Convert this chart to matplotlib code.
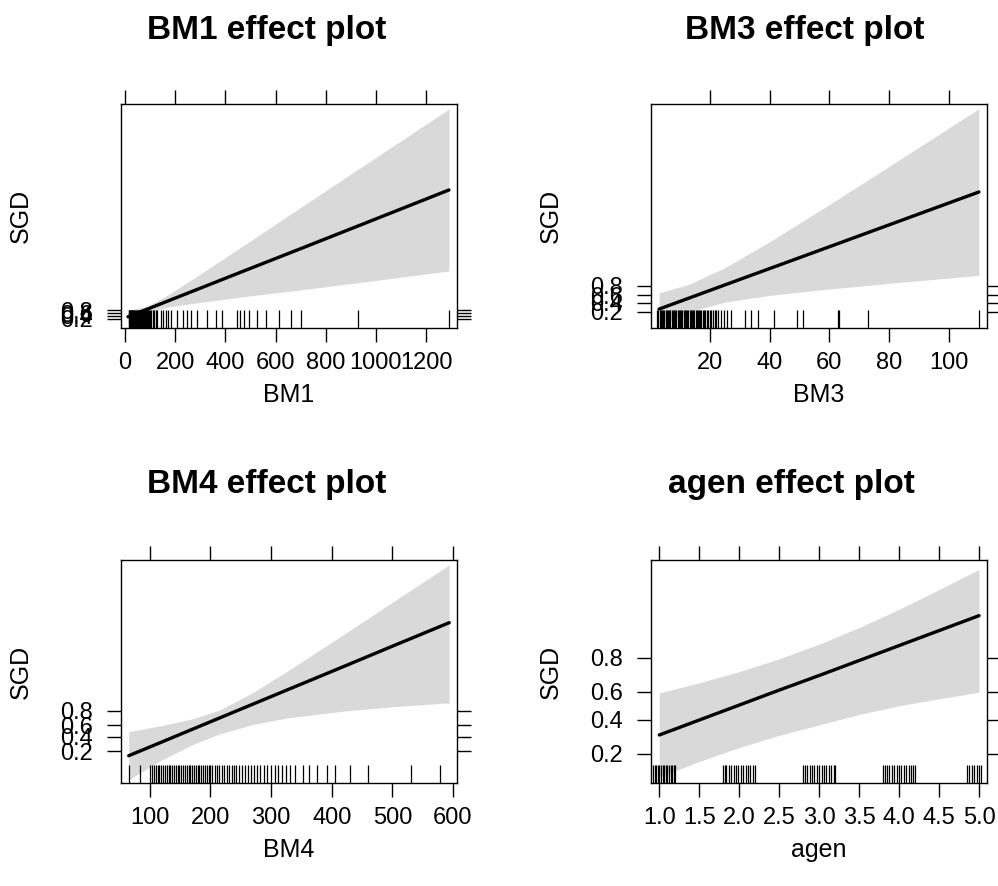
import numpy as np
import matplotlib
matplotlib.use("Agg")
import matplotlib.pyplot as plt
import matplotlib.transforms as mtransforms

plt.rcParams['font.family'] = ['Liberation Sans', 'DejaVu Sans']

# y axis is on the logit (link) scale, labelled with probabilities
prob_ticks = [0.2, 0.4, 0.6, 0.8]
prob_labels = ["0.2", "0.4", "0.6", "0.8"]

# BM1 panel (fit and band in logit units)
bm1_x = [12, 88, 179, 299, 498, 685, 976, 1291]
bm1_fit = [-0.8, 1.65, 4.6, 8.47, 14.9, 20.9, 30.3, 40.5]
bm1_upper = [1.3, 2.65, 6.7, 13.07, 23.8, 34.0, 49.8, 66.9]
bm1_lower = [-2.9, 0.65, 2.5, 3.87, 6.0, 7.8, 10.8, 14.1]
bm1_rug = [15, 17, 19, 21, 23, 25, 27, 29, 31, 33, 35, 37, 40, 43, 46, 49,
           52, 55, 58, 61, 64, 67, 70, 74, 78, 82, 86, 90, 95, 100, 105, 111,
           117, 123, 128, 142, 153, 162, 173, 183, 208, 231, 246, 262, 286,
           328, 363, 386, 445, 458, 474, 494, 525, 561, 614, 660, 700, 927,
           1291]

# BM3 panel
bm3_x = [3, 13, 25, 40, 58.3, 80, 110.1]
bm3_fit = [-1.08, 0.08, 1.47, 3.20, 5.31, 7.82, 11.3]
bm3_upper = [0.63, 1.54, 3.29, 6.03, 9.63, 14.0, 20.1]
bm3_lower = [-2.79, -1.38, -0.35, 0.37, 0.99, 1.64, 2.48]
bm3_rug = [2.4, 2.8, 3.2, 3.6, 4.0, 4.4, 4.8, 5.2, 5.6, 6.0, 6.4, 6.8, 7.2,
           7.6, 8.0, 8.4, 8.8, 9.2, 9.6, 10.0, 10.4, 10.8, 11.2, 11.6, 12.0,
           12.4, 12.8, 13.2, 13.6, 14.0, 14.4, 14.8, 15.2, 15.6, 16.0, 16.4,
           16.8, 17.2, 17.6, 18.0, 18.5, 19.0, 19.5, 20.0, 20.5, 21.0, 21.6,
           22.2, 22.8, 23.7, 24.8, 25.7, 27.0, 31.8, 33.8, 36.0, 41.6, 49.1,
           51.3, 62.8, 63.4, 72.9, 110.1]

# BM4 panel
bm4_x = [65.3, 120, 170, 215, 270, 325.8, 420, 500, 593.8]
bm4_fit = [-1.71, -0.76, 0.115, 0.90, 1.86, 2.83, 4.47, 5.87, 7.50]
bm4_upper = [-0.05, 0.38, 0.835, 1.45, 2.66, 4.12, 6.69, 8.91, 11.51]
bm4_lower = [-3.37, -2.0, -0.95, -0.2, 0.45, 0.9, 1.38, 1.68, 1.95]
bm4_rug = [65, 84, 101, 104, 107, 110, 113, 116, 119, 122, 125, 128, 131,
           134, 137, 140, 143, 146, 149, 152, 155, 158, 161, 164, 167, 170,
           173, 176, 179, 182, 185, 188, 191, 194, 197, 200, 203, 207, 211,
           215, 219, 223, 227, 231, 235, 239, 243, 247, 252, 257, 262, 267,
           272, 277, 282, 288, 294, 300, 306, 312, 318, 325, 332, 340, 352,
           362, 375, 392, 405, 430, 460, 531, 579]

# agen panel
agen_x = [1.0, 1.5, 2.0, 2.5, 3.0, 3.5, 4.0, 4.5, 5.0]
agen_fit = [-0.84, -0.41, 0.02, 0.45, 0.87, 1.30, 1.73, 2.16, 2.59]
agen_upper = [0.37, 0.66, 0.98, 1.35, 1.77, 2.25, 2.77, 3.34, 3.92]
agen_lower = [-2.05, -1.6, -1.2, -0.85, -0.55, -0.25, 0.0, 0.2, 0.39]
agen_rug = [0.92, 0.94, 0.96, 0.98, 1.0, 1.02, 1.04, 1.06, 1.08, 1.1, 1.12,
            1.14, 1.16, 1.18, 1.2,
            1.8, 1.82, 1.84, 1.87, 1.9, 1.93, 1.96, 1.99, 2.02, 2.05, 2.08,
            2.11, 2.14, 2.17, 2.2,
            2.8, 2.82, 2.85, 2.88, 2.91, 2.94, 2.97, 3.0, 3.03, 3.06, 3.09,
            3.12, 3.15, 3.18, 3.2,
            3.8, 3.82, 3.85, 3.88, 3.91, 3.94, 3.97, 4.0, 4.03, 4.06, 4.09,
            4.12, 4.15, 4.18, 4.2,
            4.85, 4.88, 4.91, 4.94, 4.97, 5.0, 5.02]

BAND = "#d9d9d9"
logit_ticks = [np.log(p / (1 - p)) for p in prob_ticks]


def draw_panel(ax, x, fit, lower, upper, rug, xlim, ylim, xticks, xticklabels, xlabel):
    ax.fill_between(x, lower, upper, color=BAND, lw=0, zorder=1)
    ax.plot(x, fit, color="black", lw=2.4, solid_capstyle="round", zorder=3)
    trans = mtransforms.blended_transform_factory(ax.transData, ax.transAxes)
    ax.vlines(rug, 0, 0.08, transform=trans, color="black", lw=0.9, zorder=2)
    ax.set_xlim(*xlim)
    ax.set_ylim(*ylim)
    ax.set_xticks(xticks)
    ax.set_xticklabels(xticklabels)
    ax.set_yticks(logit_ticks)
    ax.set_yticklabels(prob_labels)
    ax.tick_params(axis="both", direction="out", length=10, width=1.0,
                   labelsize=17, top=True, right=True,
                   labeltop=False, labelright=False)
    ax.tick_params(axis="x", pad=7)
    ax.tick_params(axis="y", pad=10)
    for s in ax.spines.values():
        s.set_linewidth(1.0)
    ax.set_xlabel(xlabel, fontsize=18)
    ax.set_ylabel("SGD", fontsize=18)
    ax.xaxis.set_label_coords(0.5, -0.245)
    ax.yaxis.set_label_coords(-0.262, 0.5)


fig = plt.figure(figsize=(9.98, 8.86), dpi=100)
w = 336 / 998
ax1 = fig.add_axes([121 / 998, 1 - 328 / 886, w, 224 / 886])
ax2 = fig.add_axes([651 / 998, 1 - 328 / 886, w, 224 / 886])
ax3 = fig.add_axes([121 / 998, 1 - 783 / 886, w, 223 / 886])
ax4 = fig.add_axes([651 / 998, 1 - 783 / 886, w, 223 / 886])

draw_panel(ax1, bm1_x, bm1_fit, bm1_lower, bm1_upper, bm1_rug,
           (-16, 1323), (-4.46, 68.5), list(range(0, 1201, 200)),
           [str(v) for v in range(0, 1201, 200)], "BM1")
draw_panel(ax2, bm3_x, bm3_fit, bm3_lower, bm3_upper, bm3_rug,
           (0.3, 112.8), (-3.08, 20.6), [20, 40, 60, 80, 100],
           ["20", "40", "60", "80", "100"], "BM3")
draw_panel(ax3, bm4_x, bm4_fit, bm4_lower, bm4_upper, bm4_rug,
           (52.6, 606.6), (-3.6, 11.84), [100, 200, 300, 400, 500, 600],
           ["100", "200", "300", "400", "500", "600"], "BM4")
agen_ticks = [1.0, 1.5, 2.0, 2.5, 3.0, 3.5, 4.0, 4.5, 5.0]
draw_panel(ax4, agen_x, agen_fit, agen_lower, agen_upper, agen_rug,
           (0.896, 5.1), (-2.22, 4.19), agen_ticks,
           ["%.1f" % v for v in agen_ticks], "agen")

titles = [("BM1 effect plot", 267, 30), ("BM3 effect plot", 805, 30),
          ("BM4 effect plot", 267, 485), ("agen effect plot", 791, 485)]
for txt, px, py in titles:
    fig.text(px / 998, 1 - py / 886, txt, ha="center", va="center",
             fontsize=24, fontweight="bold")

fig.savefig("out.png", dpi=100)
